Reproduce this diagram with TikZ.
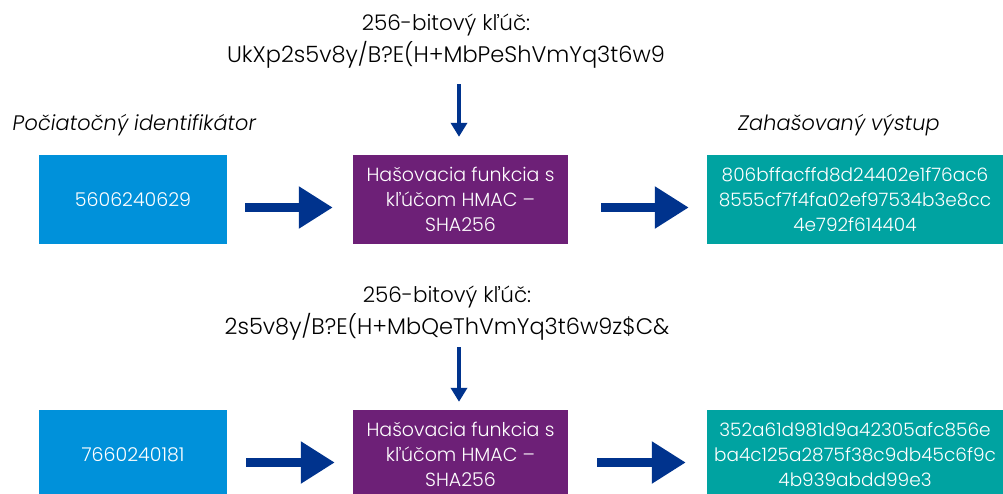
\documentclass[tikz,border=0pt]{standalone}
\usepackage{fontspec}
\setmainfont{Poppins Light}[AutoFakeSlant=0.15]
\definecolor{idblue}{RGB}{0, 145, 218}
\definecolor{hmacpurple}{RGB}{109, 32, 119}
\definecolor{outteal}{RGB}{0, 163, 161}
\definecolor{arrowblue}{RGB}{0, 51, 141}
\usepackage{tikz}
\usetikzlibrary{arrows.meta, positioning, calc}

\tikzset{
  databox/.style={minimum height=89pt, inner sep=0pt, text=white, align=center, font=\fontsize{19}{25}\selectfont},
  idbox/.style={databox, fill=idblue, minimum width=188pt},
  hashbox/.style={databox, fill=hmacpurple, minimum width=215pt},
  outbox/.style={databox, fill=outteal, minimum width=296pt, font=\fontsize{18.5}{25}\selectfont},
  flowarrow/.style={draw=arrowblue, line width=9pt, -{Triangle[length=34pt, width=40pt]}},
  keyarrow/.style={draw=arrowblue, line width=4pt, -{Triangle[length=14pt, width=16pt]}},
  keytext/.style={font=\fontsize{21.5}{30}\selectfont},
  keyval/.style={font=\fontsize{22.5}{30}\selectfont},
  colhead/.style={font=\fontsize{21}{30}\selectfont\itshape}
}

\begin{document}
\begin{tikzpicture}[x=1pt, y=-1pt]
  \clip (0, 0) rectangle (1003, 493);

  % Column headings
  \node[colhead] (idhead) at (133.5, 125) {Počiatočný identifikátor};
  \node[colhead] (outhead) at (838, 125) {Zahašovaný výstup};

  % First key
  \node[keytext] (keyhead1) at (446, 25) {256-bitový kľúč:};
  \node[keyval] (keyval1) at (446, 55) {UkXp2s5v8y/B?E(H+MbPeShVmYq3t6w9};

  % First row
  \node[idbox] (id1) at (133, 199.5) {5606240629};
  \node[hashbox] (hash1) at (460.5, 199.5) {Hašovacia funkcia s\\kľúčom HMAC –\\SHA256};
  \node[outbox] (out1) at (855, 199.5) {806bffacffd8d24402e1f76ac6\\8555cf7f4fa02ef97534b3e8cc\\4e792f614404};

  \draw[keyarrow] ($(keyval1.south -| hash1.north)+(-1.5, 12)$) -- ($(hash1.north)+(-1.5, -18)$);
  \draw[flowarrow] ([shift={(18, 8)}]id1.east) -- ([shift={(-20, 8)}]hash1.west);
  \draw[flowarrow] ([shift={(33, 8)}]hash1.east) -- ([shift={(-18, 8)}]out1.west);

  % Second key
  \node[keytext] (keyhead2) at (447, 297) {256-bitový kľúč:};
  \node[keyval] (keyval2) at (447, 327) {2s5v8y/B?E(H+MbQeThVmYq3t6w9z\$C\&};

  % Second row
  \node[idbox] (id2) at (133, 454.5) {7660240181};
  \node[hashbox] (hash2) at (460.5, 454.5) {Hašovacia funkcia s\\kľúčom HMAC –\\SHA256};
  \node[outbox] (out2) at (855, 454.5) {352a61d981d9a42305afc856e\\ba4c125a2875f38c9db45c6f9c\\4b939abdd99e3};

  \draw[keyarrow] ($(keyval2.south -| hash2.north)+(-1.5, 3)$) -- ($(hash2.north)+(-1.5, -8)$);
  \draw[flowarrow] ([shift={(19, 8)}]id2.east) -- ([shift={(-18, 8)}]hash2.west);
  \draw[flowarrow] ([shift={(29, 8)}]hash2.east) -- ([shift={(-21, 8)}]out2.west);
\end{tikzpicture}
\end{document}
